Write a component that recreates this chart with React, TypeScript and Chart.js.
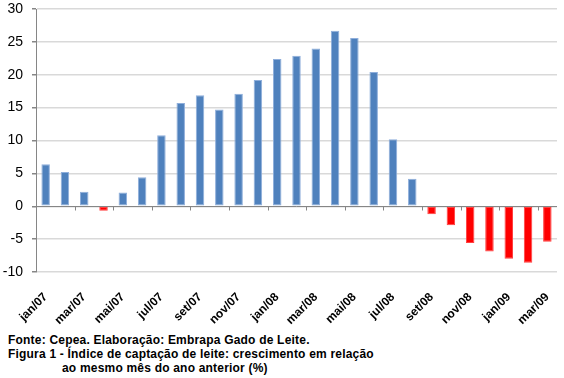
import React, { useEffect, useRef } from "react";
import { Chart, registerables } from "chart.js";

Chart.register(...registerables);

const months = [
  "jan/07", "fev/07", "mar/07", "abr/07", "mai/07", "jun/07", "jul/07", "ago/07", "set/07",
  "out/07", "nov/07", "dez/07", "jan/08", "fev/08", "mar/08", "abr/08", "mai/08", "jun/08",
  "jul/08", "ago/08", "set/08", "out/08", "nov/08", "dez/08", "jan/09", "fev/09", "mar/09",
];

const growth = [
  6.4, 5.2, 2.2, -0.7, 2.1, 4.4, 10.8, 15.7, 16.9,
  14.7, 17.1, 19.2, 22.4, 22.9, 24.0, 26.7, 25.6, 20.4,
  10.2, 4.2, -1.2, -2.9, -5.6, -6.9, -8.0, -8.6, -5.4,
];

const yTicks = [30, 25, 20, 15, 10, 5, 0, -5, -10];

const captionLines = [
  "Fonte: Cepea. Elaboração: Embrapa Gado de Leite.",
  "Figura 1 - Índice de captação de leite: crescimento em relação",
  "ao mesmo mês do ano anterior (%)",
];

const FONT = "'Liberation Sans', Arial, sans-serif";

const axisPlugin = {
  id: "zeroAxis",
  afterDatasetsDraw(chart: any) {
    const { ctx, chartArea, scales } = chart;
    const x = scales.x;
    const y = scales.y;
    const y0 = Math.round(y.getPixelForValue(0)) + 0.5;
    ctx.save();
    ctx.strokeStyle = "#868686";
    ctx.lineWidth = 1;
    ctx.beginPath();
    ctx.moveTo(chartArea.left, y0);
    ctx.lineTo(chartArea.right, y0);
    for (let i = 1; i < months.length - 1; i += 2) {
      const bx = Math.round((x.getPixelForValue(i) + x.getPixelForValue(i + 1)) / 2) + 0.5;
      ctx.moveTo(bx, y0);
      ctx.lineTo(bx, y0 + 4);
    }
    ctx.stroke();
    ctx.restore();
  },
};

export default function App() {
  const ref = useRef<HTMLCanvasElement>(null);

  useEffect(() => {
    if (!ref.current) return;
    const chart = new Chart(ref.current, {
      type: "bar",
      data: {
        labels: months,
        datasets: [
          {
            data: growth,
            backgroundColor: growth.map((v) => (v < 0 ? "#FF0000" : "#4F81BD")),
            borderColor: growth.map((v) => (v < 0 ? "#FF4040" : "#8EAEDB")),
            borderWidth: { left: 1, right: 1, top: 1, bottom: 1 },
            borderSkipped: false,
            barPercentage: 0.44,
            categoryPercentage: 1,
          },
        ],
      },
      options: {
        animation: false,
        responsive: false,
        maintainAspectRatio: false,
        layout: { padding: { top: 9, right: 7, left: 0, bottom: 0 } },
        plugins: {
          legend: { display: false },
          tooltip: { enabled: false },
        },
        scales: {
          x: {
            grid: { display: false },
            border: { display: false },
            ticks: {
              autoSkip: false,
              maxRotation: 45,
              minRotation: 45,
              padding: 10,
              color: "#000",
              font: { family: FONT, size: 12, weight: "bold" },
              callback: (_v: any, i: number) => (i % 2 === 0 ? months[i] : ""),
            },
            afterFit: (s: any) => {
              s.height = 58;
              s.paddingLeft = 0;
              s.paddingRight = 0;
            },
          },
          y: {
            min: -10,
            max: 30,
            afterBuildTicks: (s: any) => {
              s.ticks = yTicks.map((v) => ({ value: v }));
            },
            grid: {
              color: "#d9d9d9",
              lineWidth: 1.5,
              tickColor: "#868686",
              tickLength: 4,
            },
            border: { display: true, color: "#868686", width: 1 },
            ticks: {
              padding: 9,
              color: "#000",
              font: { family: FONT, size: 14 },
            },
            afterFit: (s: any) => {
              s.width = 36;
              s.paddingTop = 0;
              s.paddingBottom = 0;
            },
          },
        },
      },
      plugins: [axisPlugin],
    });
    return () => chart.destroy();
  }, []);

  return (
    <div
      style={{
        position: "absolute",
        left: 0,
        top: 0,
        width: 564,
        height: 378,
        background: "#fff",
        overflow: "hidden",
      }}
    >
      <canvas ref={ref} width={564} height={330} style={{ display: "block", width: 564, height: 330 }} />
      <div
        style={{
          fontFamily: FONT,
          fontSize: 12,
          fontWeight: "bold",
          lineHeight: "14px",
          letterSpacing: "0.2px",
          color: "#000",
          paddingLeft: 8,
          paddingTop: 3,
        }}
      >
        <div>{captionLines[0]}</div>
        <div>{captionLines[1]}</div>
        <div style={{ paddingLeft: 54 }}>{captionLines[2]}</div>
      </div>
    </div>
  );
}
